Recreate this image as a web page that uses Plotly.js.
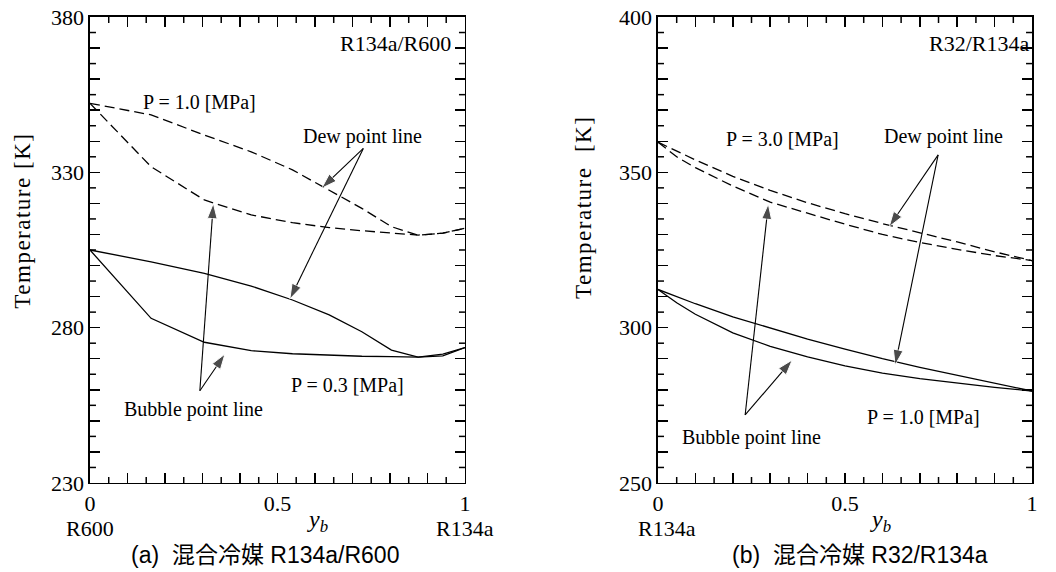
<!DOCTYPE html>
<html>
<head>
<meta charset="utf-8">
<script src="https://cdn.plot.ly/plotly-3.0.1.min.js"></script>
<style>html,body{margin:0;padding:0;background:#fff;}#chart{width:1056px;height:572px;}</style>
</head>
<body>
<div id="chart"></div>
<script>
// ---- (a) R134a/R600 ----
const xA = [0, 0.163, 0.305, 0.430, 0.540, 0.638, 0.725, 0.804, 0.875, 0.941, 1];
const dewA10 = [352.2, 348.5, 342.0, 336.6, 330.8, 324.2, 318.4, 312.5, 309.8, 310.4, 312.0];
const bubA10 = [352.2, 331.8, 321.1, 316.3, 313.8, 312.2, 311.2, 310.4, 309.8, 310.4, 312.0];
const dewA03 = [305.0, 301.2, 297.5, 293.4, 288.9, 284.1, 278.7, 272.8, 270.5, 271.5, 273.6];
const bubA03 = [305.0, 283.0, 275.3, 272.6, 271.6, 271.1, 270.8, 270.7, 270.5, 270.9, 273.6];

// ---- (b) R32/R134a ----
const xB = [0, 0.05, 0.1, 0.2, 0.3, 0.4, 0.5, 0.6, 0.7, 0.8, 0.9, 1];
const dewB30 = [359.7, 356.8, 354.0, 348.7, 344.2, 340.2, 336.7, 333.5, 330.6, 327.6, 324.4, 321.6];
const bubB30 = [359.7, 355.0, 351.5, 345.6, 340.4, 336.8, 333.3, 330.0, 327.4, 325.2, 323.2, 321.6];
const dewB10 = [312.3, 309.9, 307.7, 303.5, 299.8, 296.3, 293.1, 290.0, 287.2, 284.7, 282.1, 279.6];
const bubB10 = [312.3, 308.0, 304.3, 298.3, 294.0, 290.6, 287.7, 285.4, 283.6, 282.1, 280.8, 279.6];

// ---- ticks: labels shown only at 0, 0.5, 1 and every 50 K ----
const xHiddenLabels = ['0.1', '0.2', '0.3', '0.4', '0.6', '0.7', '0.8', '0.9'];
const yHiddenLabelsA = ['240', '250', '260', '270', '290', '300', '310', '320', '340', '350', '360', '370'];
const yHiddenLabelsB = ['260', '270', '280', '290', '310', '320', '330', '340', '360', '370', '380', '390'];
// minor (short) ticks
const xMinorTicks = [0.05, 0.15, 0.25, 0.35, 0.45, 0.55, 0.65, 0.75, 0.85, 0.95];
const yMinorTicksA = [235, 245, 255, 265, 275, 285, 295, 305, 315, 325, 335, 345, 355, 365, 375];
const yMinorTicksB = [255, 265, 275, 285, 295, 305, 315, 325, 335, 345, 355, 365, 375, 385, 395];

const SERIF = 'Liberation Serif, Times New Roman, serif';
const SANS = 'Liberation Sans, Arial, Noto Sans CJK JP, sans-serif';

function alias(list) { const o = {}; list.forEach(function (k) { o[k] = ' '; }); return o; }

function curve(x, y, xa, ya, dashed) {
  return {x: x, y: y, xaxis: xa, yaxis: ya, type: 'scatter', mode: 'lines',
    line: {color: '#000', width: 1.3, dash: dashed ? '10px,5px' : 'solid'},
    hoverinfo: 'skip', showlegend: false, cliponaxis: false};
}
function arrow(tail, head, xa, ya) {
  return {x: [tail[0], head[0]], y: [tail[1], head[1]], xaxis: xa, yaxis: ya, type: 'scatter',
    mode: 'lines+markers', line: {color: '#000', width: 1.1},
    marker: {symbol: ['circle', 'arrow'], size: [0, 16], color: '#000', angleref: 'previous'},
    hoverinfo: 'skip', showlegend: false, cliponaxis: false};
}

const traces = [
  curve(xA, dewA10, 'x', 'y', true),
  curve(xA, bubA10, 'x', 'y', true),
  curve(xA, dewA03, 'x', 'y', false),
  curve(xA, bubA03, 'x', 'y', false),
  curve(xB, dewB30, 'x2', 'y2', true),
  curve(xB, bubB30, 'x2', 'y2', true),
  curve(xB, dewB10, 'x2', 'y2', false),
  curve(xB, bubB10, 'x2', 'y2', false),
  arrow([0.729, 337.7], [0.618, 324.9], 'x', 'y'),
  arrow([0.729, 337.7], [0.533, 289.2], 'x', 'y'),
  arrow([0.293, 259.7], [0.329, 320.0], 'x', 'y'),
  arrow([0.293, 259.7], [0.360, 271.5], 'x', 'y'),
  arrow([0.749, 355.6], [0.618, 332.5], 'x2', 'y2'),
  arrow([0.749, 355.6], [0.634, 288.0], 'x2', 'y2'),
  arrow([0.233, 271.9], [0.295, 339.8], 'x2', 'y2'),
  arrow([0.233, 271.9], [0.359, 289.6], 'x2', 'y2')
];

function baseAxis() {
  return {showgrid: false, zeroline: false,
    showline: true, linecolor: '#000', linewidth: 1.5, mirror: 'ticks',
    ticks: 'inside', ticklen: 10, tickwidth: 1.5, tickcolor: '#000',
    tickfont: {family: SERIF, size: 22, color: '#000'}, fixedrange: true};
}
function xAxis(domain, anchor) {
  return Object.assign(baseAxis(), {domain: domain, anchor: anchor, range: [0, 1],
    tickmode: 'linear', tick0: 0, dtick: 0.1, labelalias: alias(xHiddenLabels)});
}
function yAxis(domain, anchor, range, hidden) {
  return Object.assign(baseAxis(), {domain: domain, anchor: anchor, range: range,
    tickmode: 'linear', tick0: 0, dtick: 10, labelalias: alias(hidden)});
}

// short ticks drawn as pixel-sized shapes anchored on the axis scales
const MINOR_LEN = 6;
function minorShapes(xa, ya, xRange, yRange, yMinor) {
  const out = [];
  const ln = {color: '#000', width: 1.5};
  xMinorTicks.forEach(function (v) {
    out.push({type: 'line', layer: 'above', xref: xa, yref: ya, x0: v, x1: v,
      ysizemode: 'pixel', yanchor: yRange[0], y0: 0, y1: MINOR_LEN, line: ln});
    out.push({type: 'line', layer: 'above', xref: xa, yref: ya, x0: v, x1: v,
      ysizemode: 'pixel', yanchor: yRange[1], y0: 0, y1: -MINOR_LEN, line: ln});
  });
  yMinor.forEach(function (v) {
    out.push({type: 'line', layer: 'above', xref: xa, yref: ya, y0: v, y1: v,
      xsizemode: 'pixel', xanchor: xRange[0], x0: 0, x1: MINOR_LEN, line: ln});
    out.push({type: 'line', layer: 'above', xref: xa, yref: ya, y0: v, y1: v,
      xsizemode: 'pixel', xanchor: xRange[1], x0: 0, x1: -MINOR_LEN, line: ln});
  });
  return out;
}

function txt(text, x, y, xref, yref, size, opts) {
  return Object.assign({text: text, x: x, y: y, xref: xref, yref: yref, showarrow: false,
    font: {family: SERIF, size: size, color: '#000'}, xanchor: 'center', yanchor: 'middle'}, opts || {});
}

const annotations = [
  // (a)
  txt('R134a/R600', 0.967, 371.6, 'x', 'y', 22, {xanchor: 'right'}),
  txt('P = 1.0 [MPa]', 0.293, 352.6, 'x', 'y', 20),
  txt('Dew point line', 0.728, 341.4, 'x', 'y', 20),
  txt('P = 0.3 [MPa]', 0.688, 261.6, 'x', 'y', 20),
  txt('Bubble point line', 0.275, 253.5, 'x', 'y', 20),
  txt('Temperature [K]', 0.021, 0.615, 'paper', 'paper', 23, {textangle: -90}),
  txt('R600', 0, 0.076, 'x', 'paper', 22),
  txt('R134a', 1, 0.076, 'x', 'paper', 22),
  txt('<i>y</i><sub><i>b</i></sub>', 0.608, 0.090, 'x', 'paper', 24),
  txt('(a)  混合冷媒 R134a/R600', 0.251, 0.030, 'paper', 'paper', 23, {font: {family: SANS, size: 23, color: '#000'}}),
  // (b)
  txt('R32/R134a', 0.997, 391.6, 'x2', 'y2', 22, {xanchor: 'right'}),
  txt('P = 3.0 [MPa]', 0.334, 360.7, 'x2', 'y2', 20),
  txt('Dew point line', 0.762, 361.4, 'x2', 'y2', 20),
  txt('P = 1.0 [MPa]', 0.709, 271.3, 'x2', 'y2', 20),
  txt('Bubble point line', 0.251, 264.5, 'x2', 'y2', 20),
  txt('Temperature&nbsp; [K]', 0.552, 0.638, 'paper', 'paper', 23, {textangle: -90}),
  txt('R134a', 0.025, 0.076, 'x2', 'paper', 22),
  txt('R32', 1.005, 0.076, 'x2', 'paper', 22),
  txt('<i>y</i><sub><i>b</i></sub>', 0.594, 0.090, 'x2', 'paper', 24),
  txt('(b)  混合冷媒 R32/R134a', 0.8144, 0.030, 'paper', 'paper', 23, {font: {family: SANS, size: 23, color: '#000'}})
];

const domXA = [0.0852, 0.4403], domXB = [0.6231, 0.9773], domY = [0.1556, 0.9703];
const rangeYA = [230, 380], rangeYB = [250, 400];
const layout = {
  width: 1056, height: 572,
  margin: {l: 0, r: 0, t: 0, b: 0},
  paper_bgcolor: '#fff', plot_bgcolor: '#fff',
  showlegend: false,
  xaxis: xAxis(domXA, 'y'),
  yaxis: yAxis(domY, 'x', rangeYA, yHiddenLabelsA),
  xaxis2: xAxis(domXB, 'y2'),
  yaxis2: yAxis(domY, 'x2', rangeYB, yHiddenLabelsB),
  shapes: minorShapes('x', 'y', [0, 1], rangeYA, yMinorTicksA)
    .concat(minorShapes('x2', 'y2', [0, 1], rangeYB, yMinorTicksB)),
  annotations: annotations
};

Plotly.newPlot('chart', traces, layout, {staticPlot: true, displayModeBar: false}).then(function (gd) {
  gd.querySelectorAll('.annotation-text').forEach(function (t) {
    if (t.textContent.indexOf('Temperature') === 0) t.style.letterSpacing = '1.5px';
  });
});
</script>
</body>
</html>
